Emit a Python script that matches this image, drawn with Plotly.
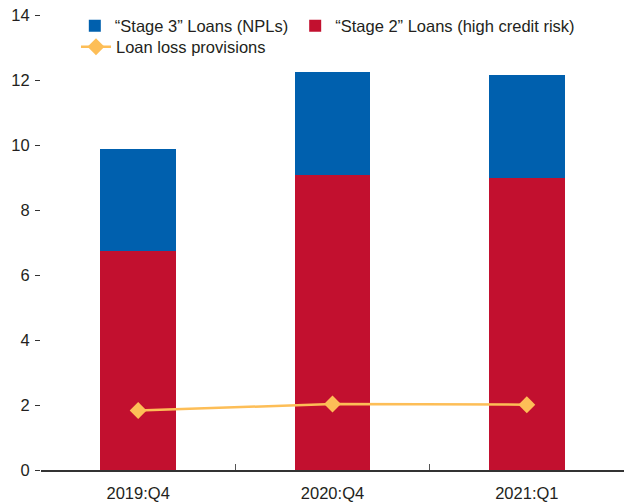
import plotly.graph_objects as go

categories = ["2019:Q4", "2020:Q4", "2021:Q1"]
stage2 = [6.75, 9.09, 9.00]
stage3 = [3.14, 3.17, 3.14]
provisions = [1.83, 2.03, 2.01]
y_ticks = [0, 2, 4, 6, 8, 10, 12, 14]

FONT = "Liberation Sans, Arial, Helvetica, sans-serif"
TXT = "#231f20"
FS = 16.5

fig = go.Figure()
fig.add_trace(go.Bar(x=categories, y=stage2, name="“Stage 2” Loans (high credit risk)",
                     marker=dict(color="#c2102f", line=dict(width=0)),
                     legend="legend2"))
fig.add_trace(go.Bar(x=categories, y=stage3, name="“Stage 3” Loans (NPLs)",
                     marker=dict(color="#0060ae", line=dict(width=0)),
                     legend="legend"))
fig.add_trace(go.Scatter(x=categories, y=provisions, name="Loan loss provisions",
                         mode="lines+markers",
                         line=dict(color="#fdbe57", width=2.5),
                         marker=dict(symbol="diamond", size=13, color="#fdbe57"),
                         legend="legend3"))

legend_common = dict(orientation="h", xanchor="left", yanchor="middle",
                     bgcolor="rgba(0,0,0,0)", font=dict(size=FS, color=TXT),
                     traceorder="normal", tracegroupgap=0, itemwidth=30)

# page body has an 8px default margin: figure is sized 8px smaller so it fits the window
fig.update_layout(
    width=624, height=496,
    barmode="stack", bargap=0.61,
    paper_bgcolor="white", plot_bgcolor="white",
    margin=dict(l=33, r=8, t=7, b=34, autoexpand=False),
    font=dict(family=FONT, size=FS, color=TXT),
    legend=dict(x=0.058, y=0.9758, **legend_common),
    legend2=dict(x=0.436, y=0.9758, **legend_common),
    legend3=dict(x=0.060, y=0.9297, **legend_common),
    showlegend=True,
)
fig.update_xaxes(type="category", showline=True, linecolor="#333333", linewidth=1.5,
                 ticks="inside", ticklen=6, tickcolor="#555555", tickwidth=1,
                 tickson="boundaries", showgrid=False, zeroline=False,
                 ticklabelstandoff=7,
                 tickfont=dict(size=FS, color=TXT))
fig.update_yaxes(range=[0, 14], tickvals=y_ticks, showgrid=False, zeroline=False,
                 showline=False, ticks="outside", ticklen=5, tickcolor="#333333",
                 tickwidth=1, mirror="ticks", ticklabelstandoff=2,
                 ticklabeloverflow="allow",
                 tickfont=dict(size=FS, color=TXT))

fig.write_html("out.html")
